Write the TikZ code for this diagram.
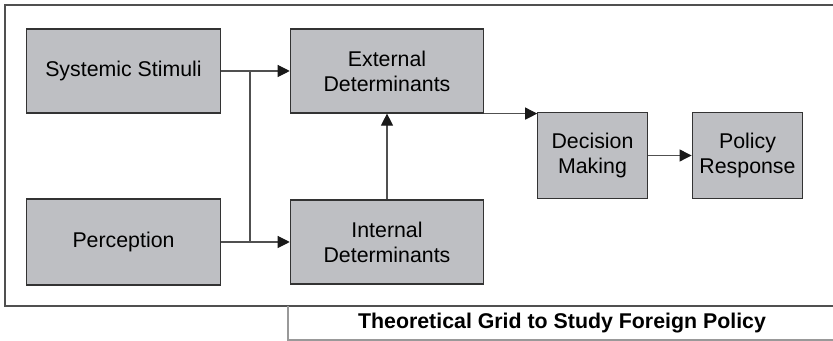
\documentclass[tikz,border=0pt]{standalone}
\usepackage{fontspec}
\setmainfont{Liberation Sans}
\usetikzlibrary{arrows.meta}
\usetikzlibrary{positioning}
\definecolor{boxgray}{RGB}{190,191,195}
\definecolor{linegray}{RGB}{80,80,80}
\tikzset{
  block/.style={draw=black!80, line width=0.9pt, fill=boxgray, inner sep=0pt,
    align=center, font=\fontsize{16}{18.75}\selectfont},
  flow/.style={draw=linegray, line width=0.8pt,
    -{Triangle[length=9pt,width=9pt,color=black!90]}},
}

\begin{document}
\begin{tikzpicture}[x=0.75pt, y=-0.75pt]
        \useasboundingbox (0, 0) rectangle (833, 341);

        \draw[linegray, line width=1.2pt] (833, 5) -- (5, 5) -- (5, 306) -- (833, 306);
        \draw[black!40, line width=1pt] (288, 306) -- (288, 340) -- (833, 340);

        \node[block, minimum width=146pt, minimum height=63pt] (sys) at (123.5, 71) {Systemic Stimuli};
        \node[block, minimum width=146pt, minimum height=64.5pt] (per) at (123.5, 242) {Perception};
        \node[block, minimum width=145pt, minimum height=63pt] (ext) at (387, 71) {External\\Determinants};
        \node[block, minimum width=145pt, minimum height=63pt] (int) at (387, 242) {Internal\\Determinants};
        \node[block, minimum width=82pt, minimum height=64pt] (dec) at (592.5, 155.5) {Decision\\Making};
        \node[block, minimum width=83pt, minimum height=64pt] (pol) at (747.5, 155.5) {Policy\\Response};

        \coordinate (j1) at (250, 71);
        \coordinate (j2) at (250, 242);

        \draw[flow] (sys.east) -- (ext.west);
        \draw[flow] (per.east) -- (int.west);
        \draw[linegray, line width=0.8pt] (j1) -- (j2);
        \draw[flow] (int.north) -- (ext.south);
        \draw[flow] (ext.south east) -- (ext.south east -| dec.west);
        \draw[flow] (dec.east) -- (pol.west);

        \node[font=\bfseries\fontsize{16}{18.75}\selectfont] (cap) at (562, 323) {Theoretical Grid to Study Foreign Policy};
    \end{tikzpicture}
\end{document}
